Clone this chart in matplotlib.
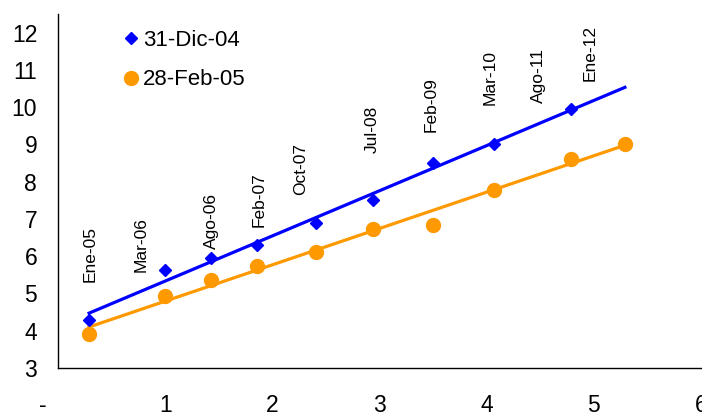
import numpy as np
import matplotlib.pyplot as plt
import matplotlib.transforms as mtransforms

plt.rcParams['font.family'] = ['Liberation Sans', 'DejaVu Sans']

# Data
x_dic04 = [0.29, 1.00, 1.43, 1.86, 2.41, 2.94, 3.50, 4.07, 4.79]
y_dic04 = [4.29, 5.63, 5.96, 6.31, 6.90, 7.52, 8.51, 9.02, 9.96]

x_feb05 = [0.29, 1.00, 1.43, 1.86, 2.41, 2.94, 3.50, 4.07, 4.79, 5.29]
y_feb05 = [3.91, 4.94, 5.37, 5.74, 6.12, 6.74, 6.84, 7.78, 8.62, 9.02]

# maturity labels above the points
mat_labels = ["Ene-05", "Mar-06", "Ago-06", "Feb-07", "Oct-07",
              "Jul-08", "Feb-09", "Mar-10", "Ago-11", "Ene-12"]
mat_x = [0.30, 0.78, 1.43, 1.88, 2.26, 2.93, 3.48, 4.03, 4.48, 4.97]
mat_y = [5.31, 5.58, 6.20, 6.79, 7.65, 8.78, 9.34, 10.07, 10.12, 10.69]

x_ticks = [0, 1, 2, 3, 4, 5, 6]
x_ticklabels = ["-", "1", "2", "3", "4", "5", "6"]
y_ticks = list(range(3, 13))

blue = "#0000FF"
orange = "#FF9900"

fig = plt.figure(figsize=(7.02, 4.16), dpi=100)
ax = fig.add_axes([58 / 702, 48 / 416, 643 / 702, 354 / 416])

# points
ax.plot(x_dic04, y_dic04, "D", color=blue, markersize=6.5, label="31-Dic-04",
        zorder=3)
ax.plot(x_feb05, y_feb05, "o", color=orange, markersize=10, label="28-Feb-05",
        zorder=3)

# linear trend lines
xr = np.array([min(x_feb05), max(x_feb05)])
p_b = np.polyfit(x_dic04, y_dic04, 1)
p_o = np.polyfit(x_feb05, y_feb05, 1)
ax.plot(xr, np.polyval(p_b, xr), color=blue, lw=2.3, zorder=2)
ax.plot(xr, np.polyval(p_o, xr), color=orange, lw=2.3, zorder=2)

for lab, lx, ly in zip(mat_labels, mat_x, mat_y):
    ax.text(lx, ly, lab, rotation=90, ha="center", va="bottom", fontsize=12.5)

ax.set_xlim(0, 6)
ax.set_ylim(3, 12.5)
ax.set_xticks(x_ticks)
ax.set_xticklabels(x_ticklabels)
ax.set_yticks(y_ticks)
ax.tick_params(axis="both", length=0, labelsize=16.5)
ax.tick_params(axis="y", pad=15)
ax.tick_params(axis="x", pad=19)

# the "-" for zero sits a bit to the left
lbl0 = ax.get_xticklabels()[0]
lbl0.set_transform(lbl0.get_transform() +
                   mtransforms.ScaledTranslation(-15 / 100, 0, fig.dpi_scale_trans))

for s in ["top", "right"]:
    ax.spines[s].set_visible(False)
for s in ["left", "bottom"]:
    ax.spines[s].set_linewidth(1)
    ax.spines[s].set_color("black")

ax.legend(loc="upper left", bbox_to_anchor=(0.072, 1.0), frameon=False,
          fontsize=16, handletextpad=0.05, handlelength=1.0,
          labelspacing=0.85, borderaxespad=0.3)

fig.savefig("out.png", dpi=100)
